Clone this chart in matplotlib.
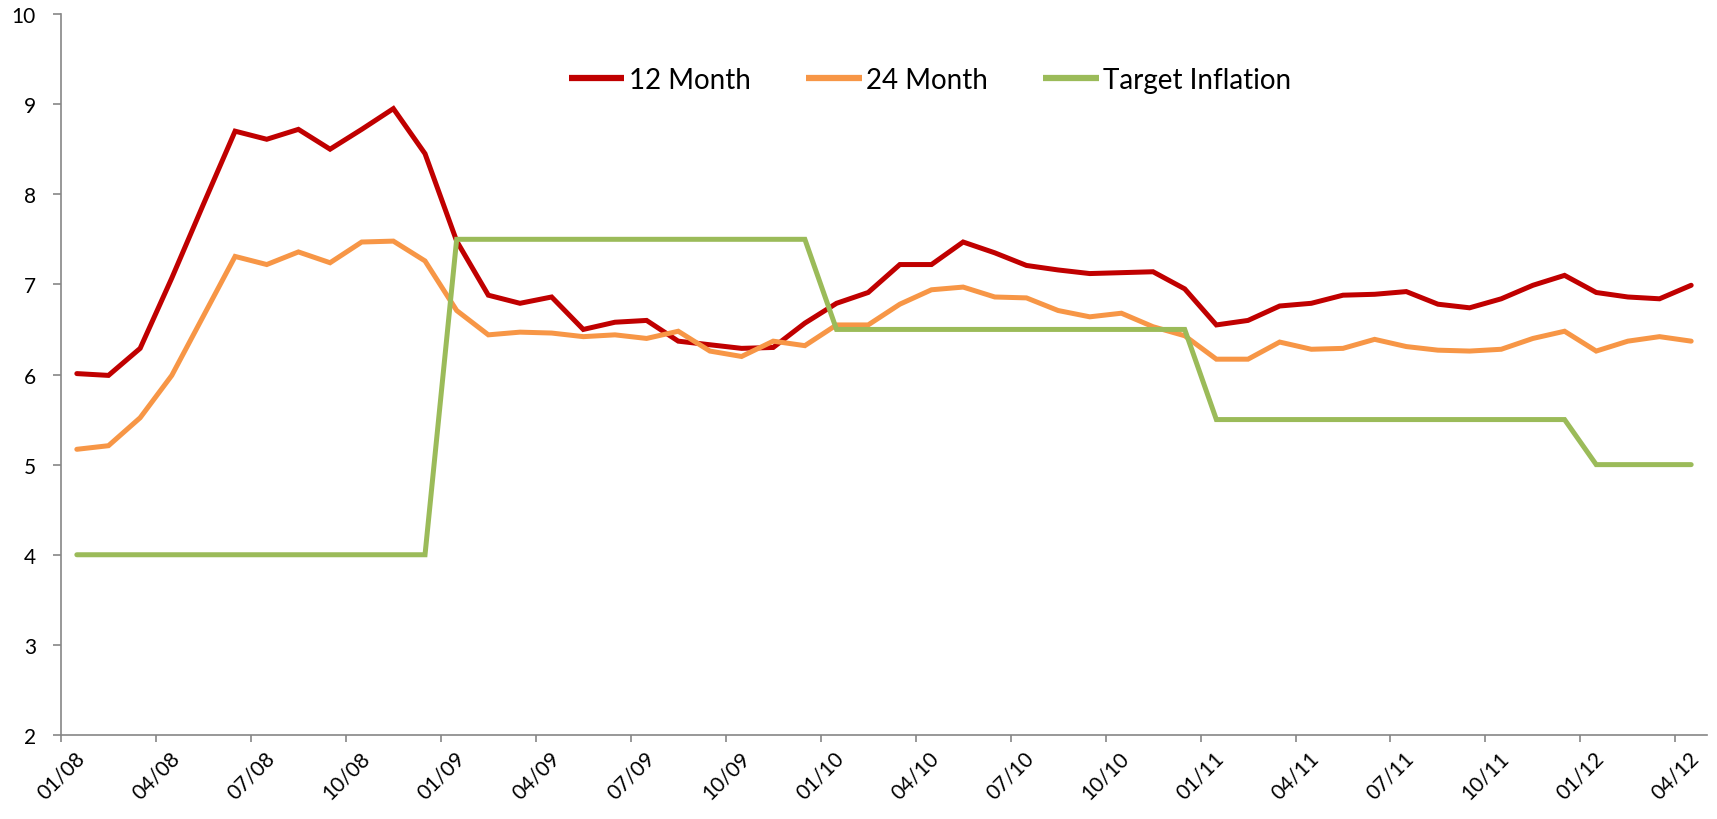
import matplotlib
matplotlib.use("Agg")
import matplotlib.pyplot as plt
import numpy as np

# ---- data ----
months = 52  # 01/08 .. 04/12
tick_labels = ["01/08", "04/08", "07/08", "10/08", "01/09", "04/09", "07/09", "10/09",
               "01/10", "04/10", "07/10", "10/10", "01/11", "04/11", "07/11", "10/11",
               "01/12", "04/12"]

month12 = [6.01, 5.99, 6.29, 7.07, 7.89, 8.70, 8.61, 8.72, 8.50, 8.72,
           8.95, 8.45, 7.48, 6.88, 6.79, 6.86, 6.50, 6.58, 6.60, 6.37,
           6.33, 6.29, 6.30, 6.57, 6.79, 6.91, 7.22, 7.22, 7.47, 7.35,
           7.21, 7.16, 7.12, 7.13, 7.14, 6.95, 6.55, 6.60, 6.76, 6.79,
           6.88, 6.89, 6.92, 6.78, 6.74, 6.84, 6.99, 7.10, 6.91, 6.86,
           6.84, 6.99]

month24 = [5.17, 5.21, 5.52, 5.99, 6.65, 7.31, 7.22, 7.36, 7.24, 7.47,
           7.48, 7.26, 6.71, 6.44, 6.47, 6.46, 6.42, 6.44, 6.40, 6.48,
           6.26, 6.20, 6.37, 6.32, 6.55, 6.55, 6.78, 6.94, 6.97, 6.86,
           6.85, 6.71, 6.64, 6.68, 6.53, 6.43, 6.17, 6.17, 6.36, 6.28,
           6.29, 6.39, 6.31, 6.27, 6.26, 6.28, 6.40, 6.48, 6.26, 6.37,
           6.42, 6.37]

target = [4.0] * 12 + [7.5] * 12 + [6.5] * 12 + [5.5] * 12 + [5.0] * 4

series_names = ["12 Month", "24 Month", "Target Inflation"]
series_colors = ["#C00000", "#F79646", "#9BBB59"]

# ---- figure ----
W, H = 1717, 820
fig = plt.figure(figsize=(W / 100, H / 100), dpi=100)
left, right, top, bottom = 61, 1707, 15, 736
ax = fig.add_axes([left / W, 1 - bottom / H, (right - left) / W, (bottom - top) / H])

x = np.arange(months) + 0.5
for vals, name, col in zip([month12, month24, target], series_names, series_colors):
    ax.plot(x, vals, color=col, lw=3.6, label=name,
            solid_capstyle="round", solid_joinstyle="miter")

ax.set_xlim(0, months)
ax.set_ylim(2, 10)
ax.set_yticks(range(2, 11))
ax.set_xticks(np.arange(0, months, 3))
ax.set_xticklabels(tick_labels)

tick_font = ["Lato", "DejaVu Sans"]
for lab in ax.get_yticklabels():
    lab.set_fontfamily(tick_font)
    lab.set_fontsize(15)
for lab in ax.get_xticklabels():
    lab.set_fontfamily(tick_font)
    lab.set_fontsize(15)
    lab.set_rotation(45)
    lab.set_ha("center")

axis_col = "#868686"
for s in ["top", "right"]:
    ax.spines[s].set_visible(False)
for s in ["left", "bottom"]:
    ax.spines[s].set_color(axis_col)
    ax.spines[s].set_linewidth(1.2)
ax.tick_params(axis="y", direction="out", length=6, width=1.2, color=axis_col, pad=12)
ax.tick_params(axis="x", direction="out", length=5, width=1.2, color=axis_col, pad=4)

leg_cx = (930 - left) / (right - left)
leg_cy = (bottom - 81) / (bottom - top)
leg = ax.legend(loc="center", bbox_to_anchor=(leg_cx, leg_cy),
                ncol=3, frameon=False, handlelength=2.0, handletextpad=0.15, columnspacing=2.0,
                borderaxespad=0, borderpad=0,
                prop={"family": ["Lato", "DejaVu Sans"], "size": 20})
for h in leg.legend_handles:
    h.set_linewidth(4.5)
    h.set_solid_capstyle("butt")

fig.savefig("out.png", dpi=100, facecolor="white")
